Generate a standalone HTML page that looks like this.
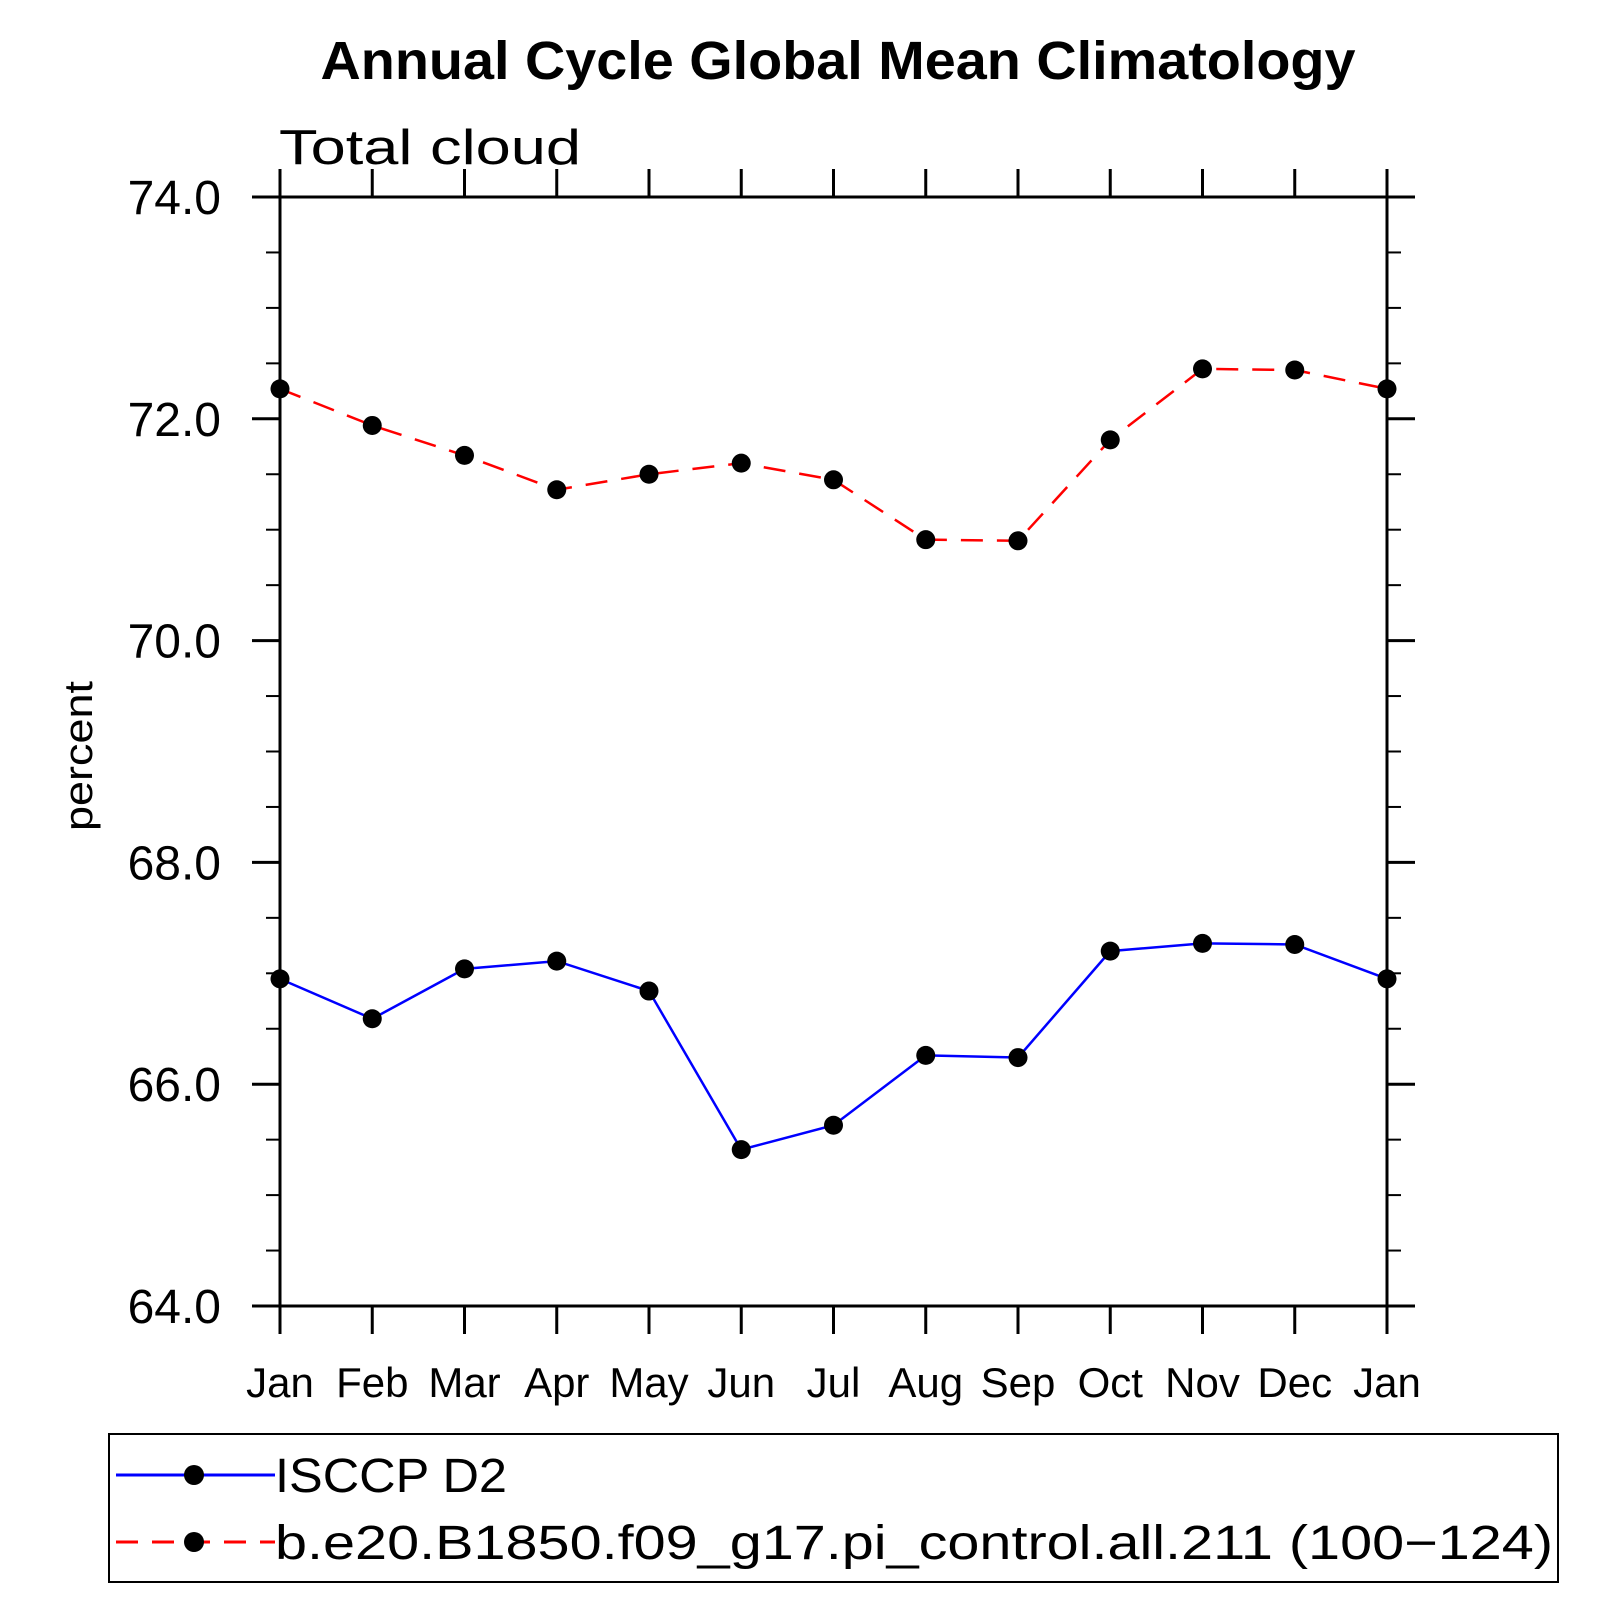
<!DOCTYPE html>
<html><head><meta charset="utf-8"><style>
html,body{margin:0;padding:0;background:#fff;}
svg{display:block;font-family:"Liberation Sans",sans-serif;}
</style></head><body>
<svg id="c" width="1619" height="1619" viewBox="0 0 1619 1619">
<text x="838" y="79" text-anchor="middle" font-size="54" font-weight="bold" textLength="1035" lengthAdjust="spacingAndGlyphs">Annual Cycle Global Mean Climatology</text>
<text x="279" y="164" font-size="49" textLength="302" lengthAdjust="spacingAndGlyphs">Total cloud</text>
<text transform="translate(92,756) rotate(-90)" text-anchor="middle" font-size="40" textLength="150" lengthAdjust="spacingAndGlyphs">percent</text>
<g id="axes"></g><g id="series"></g>
<rect x="109" y="1434" width="1449" height="148" fill="none" stroke="#000" stroke-width="2"/>
<g>
<line x1="116" y1="1475" x2="275" y2="1475" stroke="#00f" stroke-width="3"/>
<circle cx="194" cy="1475" r="10" fill="#000"/>
<text x="275" y="1492" font-size="48" textLength="232" lengthAdjust="spacingAndGlyphs">ISCCP D2</text>
</g>
<g>
<line x1="116" y1="1542" x2="275" y2="1542" stroke="#f00" stroke-width="3" stroke-dasharray="22,14"/>
<circle cx="194" cy="1542" r="10" fill="#000"/>
<text x="275" y="1559" font-size="48" textLength="1278" lengthAdjust="spacingAndGlyphs">b.e20.B1850.f09_g17.pi_control.all.211 (100−124)</text>
</g>
</svg>
<script>
const months = ["Jan","Feb","Mar","Apr","May","Jun","Jul","Aug","Sep","Oct","Nov","Dec","Jan"];
const isccpValues = [66.95,66.59,67.04,67.11,66.84,65.41,65.63,66.26,66.24,67.20,67.27,67.26,66.95];
const modelValues = [72.27,71.94,71.67,71.36,71.50,71.60,71.45,70.91,70.90,71.81,72.45,72.44,72.27];
const yTickLabels = ["64.0","66.0","68.0","70.0","72.0","74.0"];
const yMin = 64, yMax = 74;
const L=280,R=1387,T=197,B=1306;
const NS="http://www.w3.org/2000/svg";
function xs(i){return L+(R-L)*i/(months.length-1);}
function ys(v){return B-(B-T)*(v-yMin)/(yMax-yMin);}
function mk(tag,attrs,parent){const e=document.createElementNS(NS,tag);for(const k in attrs)e.setAttribute(k,attrs[k]);parent.appendChild(e);return e;}
const ax=document.getElementById('axes');
const frame=mk('rect',{x:L,y:T,width:R-L,height:B-T,fill:'none',stroke:'#000','stroke-width':3},ax);


months.forEach((m,i)=>{
  const x=xs(i);
  const t1=mk('line',{x1:x,y1:B,x2:x,y2:B+28,stroke:'#000','stroke-width':3},ax);
  
  
  const t2=mk('line',{x1:x,y1:T,x2:x,y2:T-28,stroke:'#000','stroke-width':3},ax);
  
  
  const lb=mk('text',{x:x,y:1397,'text-anchor':'middle','font-size':42},ax);
  lb.textContent=m;
  
  
});
for(let v=yMin; v<=yMax+1e-9; v+=0.5){
  const y=ys(v); const major=Math.abs(v-Math.round(v/2)*2)<1e-9;
  const len=major?28:14;
  const a=mk('line',{x1:L-len,y1:y,x2:L,y2:y,stroke:'#000','stroke-width':major?3:2},ax);
  
  
  const b=mk('line',{x1:R,y1:y,x2:R+len,y2:y,stroke:'#000','stroke-width':major?3:2},ax);
  
  
}
yTickLabels.forEach(s=>{
  const v=parseFloat(s);
  const lb=mk('text',{x:221,y:ys(v)+17,'text-anchor':'end','font-size':48},ax);
  lb.textContent=s;
  
  
});
const sg=document.getElementById('series');
function series(vals,color,dash,name){
  const pts=vals.map((v,i)=>xs(i)+','+ys(v)).join(' ');
  const pl=mk('polyline',{points:pts,fill:'none',stroke:color,'stroke-width':2.5},sg);
  if(dash)pl.setAttribute('stroke-dasharray',dash);
  
  
  vals.forEach((v,i)=>{
    const c=mk('circle',{cx:xs(i),cy:ys(v),r:9.5,fill:'#000'},sg);
    
    
  });
}
series(isccpValues,'#0000ff',null,'isccp');
series(modelValues,'#ff0000','22,14','model');
</script>
</body></html>
